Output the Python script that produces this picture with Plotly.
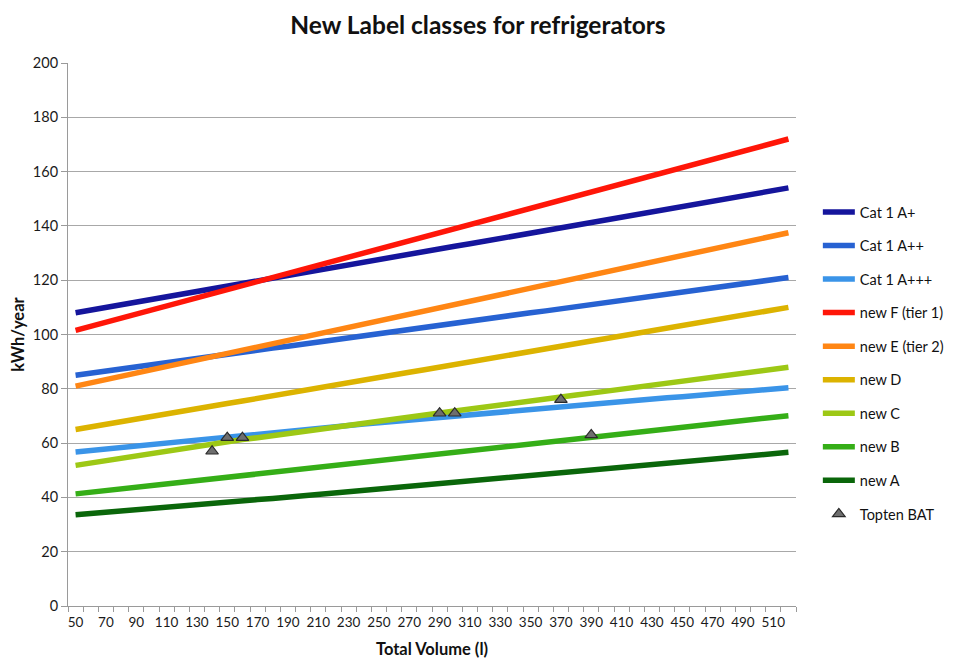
import plotly.graph_objects as go

volumes = list(range(50, 530, 10))

cat1_a_plus = [108.0, 109.0, 110.0, 110.9, 111.9, 112.9, 113.9, 114.9, 115.8, 116.8,
               117.8, 118.8, 119.7, 120.7, 121.7, 122.7, 123.7, 124.6, 125.6, 126.6,
               127.6, 128.6, 129.5, 130.5, 131.5, 132.5, 133.4, 134.4, 135.4, 136.4,
               137.4, 138.3, 139.3, 140.3, 141.3, 142.3, 143.2, 144.2, 145.2, 146.2,
               147.1, 148.1, 149.1, 150.1, 151.1, 152.0, 153.0, 154.0]
cat1_a_pp = [85.0, 85.8, 86.5, 87.3, 88.1, 88.8, 89.6, 90.4, 91.1, 91.9,
             92.7, 93.4, 94.2, 95.0, 95.7, 96.5, 97.3, 98.0, 98.8, 99.6,
             100.3, 101.1, 101.9, 102.6, 103.4, 104.1, 104.9, 105.7, 106.4, 107.2,
             108.0, 108.7, 109.5, 110.3, 111.0, 111.8, 112.6, 113.3, 114.1, 114.9,
             115.6, 116.4, 117.2, 117.9, 118.7, 119.5, 120.2, 121.0]
cat1_a_ppp = [56.7, 57.3, 57.8, 58.4, 58.9, 59.5, 60.0, 60.6, 61.1, 61.7,
              62.2, 62.7, 63.3, 63.8, 64.3, 64.9, 65.4, 65.9, 66.4, 67.0,
              67.5, 68.0, 68.5, 69.1, 69.6, 70.1, 70.5, 71.0, 71.5, 72.0,
              72.4, 72.9, 73.4, 73.8, 74.3, 74.8, 75.3, 75.7, 76.2, 76.7,
              77.1, 77.6, 78.1, 78.5, 79.0, 79.5, 79.9, 80.4]
new_f = [101.5, 103.0, 104.5, 106.0, 107.5, 109.0, 110.5, 112.0, 113.5, 115.0,
         116.5, 118.0, 119.5, 121.0, 122.5, 124.0, 125.5, 127.0, 128.5, 130.0,
         131.5, 133.0, 134.5, 136.0, 137.5, 139.0, 140.5, 142.0, 143.5, 145.0,
         146.5, 148.0, 149.5, 151.0, 152.5, 154.0, 155.5, 157.0, 158.5, 160.0,
         161.5, 163.0, 164.5, 166.0, 167.5, 169.0, 170.5, 172.0]
new_e = [81.0, 82.2, 83.4, 84.6, 85.8, 87.0, 88.2, 89.4, 90.6, 91.8,
         93.0, 94.2, 95.4, 96.6, 97.8, 99.0, 100.2, 101.4, 102.6, 103.8,
         105.0, 106.2, 107.4, 108.6, 109.8, 111.1, 112.3, 113.5, 114.7, 115.9,
         117.1, 118.3, 119.5, 120.7, 121.9, 123.1, 124.3, 125.5, 126.7, 127.9,
         129.1, 130.3, 131.5, 132.7, 133.9, 135.1, 136.3, 137.5]
new_d = [65.0, 66.0, 66.9, 67.9, 68.8, 69.8, 70.7, 71.7, 72.7, 73.6,
         74.6, 75.5, 76.5, 77.4, 78.4, 79.4, 80.3, 81.3, 82.2, 83.2,
         84.1, 85.1, 86.1, 87.0, 88.0, 88.9, 89.9, 90.8, 91.8, 92.8,
         93.7, 94.7, 95.6, 96.6, 97.6, 98.5, 99.5, 100.4, 101.4, 102.3,
         103.3, 104.3, 105.2, 106.2, 107.1, 108.1, 109.0, 110.0]
new_c = [51.8, 52.7, 53.5, 54.4, 55.3, 56.2, 57.0, 57.9, 58.8, 59.6,
         60.5, 61.3, 62.0, 62.8, 63.5, 64.3, 65.0, 65.8, 66.6, 67.3,
         68.1, 68.8, 69.6, 70.3, 71.1, 71.8, 72.6, 73.3, 74.0, 74.7,
         75.5, 76.2, 76.9, 77.7, 78.4, 79.1, 79.9, 80.6, 81.3, 82.0,
         82.8, 83.5, 84.2, 85.0, 85.7, 86.4, 87.2, 87.9]
new_b = [41.3, 41.9, 42.5, 43.1, 43.8, 44.4, 45.0, 45.6, 46.2, 46.8,
         47.4, 48.0, 48.7, 49.3, 49.9, 50.5, 51.1, 51.7, 52.3, 52.9,
         53.6, 54.2, 54.8, 55.4, 56.0, 56.6, 57.2, 57.8, 58.5, 59.1,
         59.7, 60.3, 60.9, 61.5, 62.1, 62.8, 63.4, 64.0, 64.6, 65.2,
         65.8, 66.4, 67.0, 67.7, 68.3, 68.9, 69.5, 70.1]
new_a = [33.6, 34.1, 34.5, 35.0, 35.5, 35.9, 36.4, 36.8, 37.3, 37.8,
         38.2, 38.7, 39.2, 39.6, 40.1, 40.5, 41.0, 41.5, 41.9, 42.4,
         42.9, 43.3, 43.8, 44.2, 44.7, 45.2, 45.7, 46.3, 46.8, 47.3,
         47.8, 48.3, 48.8, 49.4, 49.9, 50.4, 50.9, 51.4, 51.9, 52.5,
         53.0, 53.5, 54.0, 54.5, 55.0, 55.6, 56.1, 56.6]

topten_volume = [140, 150, 160, 290, 300, 370, 390]
topten_kwh = [57, 62, 62, 71, 71, 76, 63]

x_tick_labels = list(range(50, 520, 20))
y_ticks = list(range(0, 201, 20))

series = [
    ("Cat 1 A+", cat1_a_plus, "#15159c"),
    ("Cat 1 A++", cat1_a_pp, "#2762d2"),
    ("Cat 1 A+++", cat1_a_ppp, "#3a94e8"),
    ("new F (tier 1)", new_f, "#ff1608"),
    ("new E (tier 2)", new_e, "#ff8614"),
    ("new D", new_d, "#dcb300"),
    ("new C", new_c, "#9dc815"),
    ("new B", new_b, "#35ae17"),
    ("new A", new_a, "#0a660a"),
]

fig = go.Figure()
for i, (name, vals, col) in enumerate(series):
    fig.add_trace(go.Scatter(
        x=volumes, y=vals, name=name, mode="lines",
        line=dict(color=col, width=5.5),
        legendgroup="g%d" % i,
    ))

fig.add_trace(go.Scatter(
    x=topten_volume, y=topten_kwh, name="Topten BAT", mode="markers",
    marker=dict(symbol="triangle-up", size=11, color="#6e6e6e",
                line=dict(color="#2a2a2a", width=1.2)),
    legendgroup="gt",
))

fig.update_layout(
    width=947, height=651,
    paper_bgcolor="white", plot_bgcolor="white",
    margin=dict(l=60, r=159, t=55, b=53, autoexpand=False),
    font=dict(family="Lato, Open Sans, sans-serif", size=13, color="#1a1a1a"),
    title=dict(text="<b>New Label classes for refrigerators</b>",
               x=0.4963, xref="container", xanchor="center",
               y=0.974, yref="container", yanchor="middle",
               font=dict(size=24.5, color="#111111")),
    showlegend=True,
    legend=dict(x=1.03, xanchor="left", y=0.755, yanchor="top",
                font=dict(size=14.5, color="#111111"),
                tracegroupgap=11.7, itemwidth=32,
                bgcolor="rgba(0,0,0,0)"),
)

fig.update_xaxes(
    range=[45, 525], automargin=False,
    tickmode="array", tickvals=x_tick_labels,
    ticktext=[str(v) for v in x_tick_labels],
    ticks="", showgrid=False, zeroline=False,
    showline=True, linecolor="#9a9a9a", linewidth=1,
    tickfont=dict(size=13.5, color="#1a1a1a"),
    ticklabelstandoff=4,
    minor=dict(tickmode="array", tickvals=list(range(45, 530, 10)),
               ticks="outside", ticklen=5, tickcolor="#9a9a9a", showgrid=False),
    title=dict(text="<b>Total Volume (l)</b>", font=dict(size=16.5, color="#111111"),
               standoff=14),
)

fig.update_yaxes(
    range=[0, 200], automargin=False, tickmode="array", tickvals=y_ticks,
    ticks="outside", ticklen=6, tickcolor="#9a9a9a",
    showgrid=True, gridcolor="#a8a8a8", gridwidth=1,
    zeroline=False, showline=True, linecolor="#9a9a9a", linewidth=1,
    tickfont=dict(size=14.5, color="#1a1a1a"),
    title=dict(text="<b>kWh/year</b>", font=dict(size=16.5, color="#111111"),
               standoff=6),
)

fig.write_html("out.html")
